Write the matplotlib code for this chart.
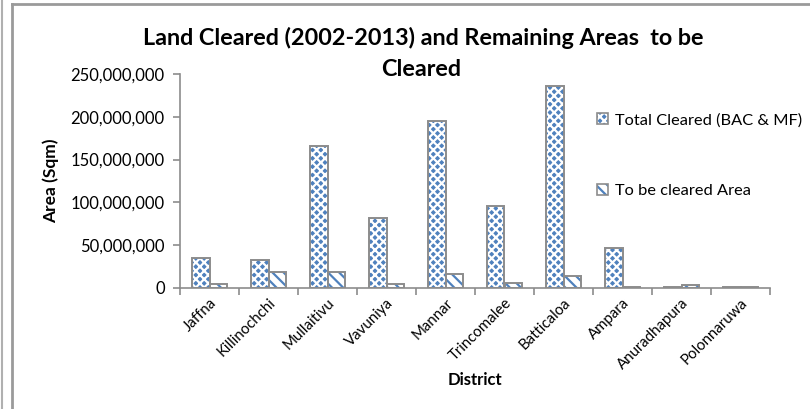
import numpy as np
import matplotlib.pyplot as plt
from matplotlib.patches import Patch
from matplotlib.lines import Line2D
from matplotlib.ticker import FuncFormatter, FixedLocator

plt.rcParams['font.family'] = ['Lato', 'DejaVu Sans']
plt.rcParams['hatch.linewidth'] = 1.6

# data (sqm)
districts = ['Jaffna', 'Killinochchi', 'Mullaitivu', 'Vavuniya', 'Mannar',
             'Trincomalee', 'Batticaloa', 'Ampara', 'Anuradhapura', 'Polonnaruwa']
total_cleared = [35.0e6, 32.1e6, 166.5e6, 81.0e6, 195.6e6,
                 95.0e6, 236.0e6, 46.0e6, 0.3e6, 0.3e6]
to_be_cleared = [3.8e6, 18.6e6, 17.9e6, 4.5e6, 16.2e6,
                 5.6e6, 13.9e6, 0.3e6, 3.0e6, 0.3e6]

blue = '#4F81BD'
grey = '#8c8c8c'

fig = plt.figure(figsize=(8.1, 4.09), dpi=100)
ax = fig.add_axes([180/810, 1 - 287.5/409, 590/810, (287.5 - 74.3)/409])

x = np.arange(len(districts))
w = 0.3

# total cleared: blue with white checker
ax.bar(x - w/2, total_cleared, w, color=blue, edgecolor='white', hatch='xxxx', linewidth=0)
ax.bar(x - w/2, total_cleared, w, fill=False, edgecolor=grey, linewidth=1.4)
# to be cleared: white with blue stripes
ax.bar(x + w/2, to_be_cleared, w, color='white', edgecolor=blue, hatch='\\\\\\', linewidth=0)
ax.bar(x + w/2, to_be_cleared, w, fill=False, edgecolor=grey, linewidth=1.4)

ax.set_xlim(-0.5, len(districts) - 0.5)
ax.set_ylim(0, 250e6)
ax.set_yticks(np.arange(0, 250e6 + 1, 50e6))
ax.yaxis.set_major_formatter(FuncFormatter(lambda v, p: f'{int(v):,}'))

ax.set_xticks(x)
ax.set_xticklabels(districts, rotation=45, ha='right', rotation_mode='anchor', fontsize=10.8)
ax.xaxis.set_minor_locator(FixedLocator(np.arange(-0.5, len(districts), 1)))
ax.tick_params(axis='x', which='major', length=0, pad=6)
ax.tick_params(axis='x', which='minor', length=5, color=grey, width=1.2)
ax.tick_params(axis='y', length=5, color=grey, width=1.2, labelsize=12, pad=6)

for s in ['top', 'right']:
    ax.spines[s].set_visible(False)
for s in ['left', 'bottom']:
    ax.spines[s].set_color(grey)
    ax.spines[s].set_linewidth(1.2)

ax.set_ylabel('Area (Sqm)', fontsize=12.5, fontweight='bold', labelpad=8)
ax.set_xlabel('District', fontsize=12, fontweight='bold', labelpad=0)

# title in two lines, as in the original
fig.text(423/810, 1 - 38/409, 'Land Cleared (2002-2013) and Remaining Areas  to be',
         ha='center', va='center', fontsize=16.8, fontweight='bold')
fig.text(421/810, 1 - 69/409, 'Cleared',
         ha='center', va='center', fontsize=16.8, fontweight='bold')

h1 = (Patch(facecolor=blue, edgecolor='white', hatch='xxxx', linewidth=0),
      Patch(fill=False, edgecolor=grey, linewidth=1.2))
h2 = (Patch(facecolor='white', edgecolor=blue, hatch='\\\\\\', linewidth=0),
      Patch(fill=False, edgecolor=grey, linewidth=1.2))
fig.legend([h1, h2], ['Total Cleared (BAC & MF)', 'To be cleared Area'],
           loc='upper left', bbox_to_anchor=(582/810, 1 - 98/409), frameon=False,
           fontsize=11.8, labelspacing=3.45, handlelength=0.7, handleheight=0.7,
           handletextpad=0.4)

# outer frame lines
fig.add_artist(Line2D([12/810, 12/810], [0, 1 - 4/409], color='#9a9a9a', lw=2))
fig.add_artist(Line2D([12/810, 1], [1 - 4/409, 1 - 4/409], color='#9a9a9a', lw=2))
fig.add_artist(Line2D([2/810, 2/810], [0, 1], color='#b0b0b0', lw=1.5))

fig.savefig('out.png', dpi=100)
